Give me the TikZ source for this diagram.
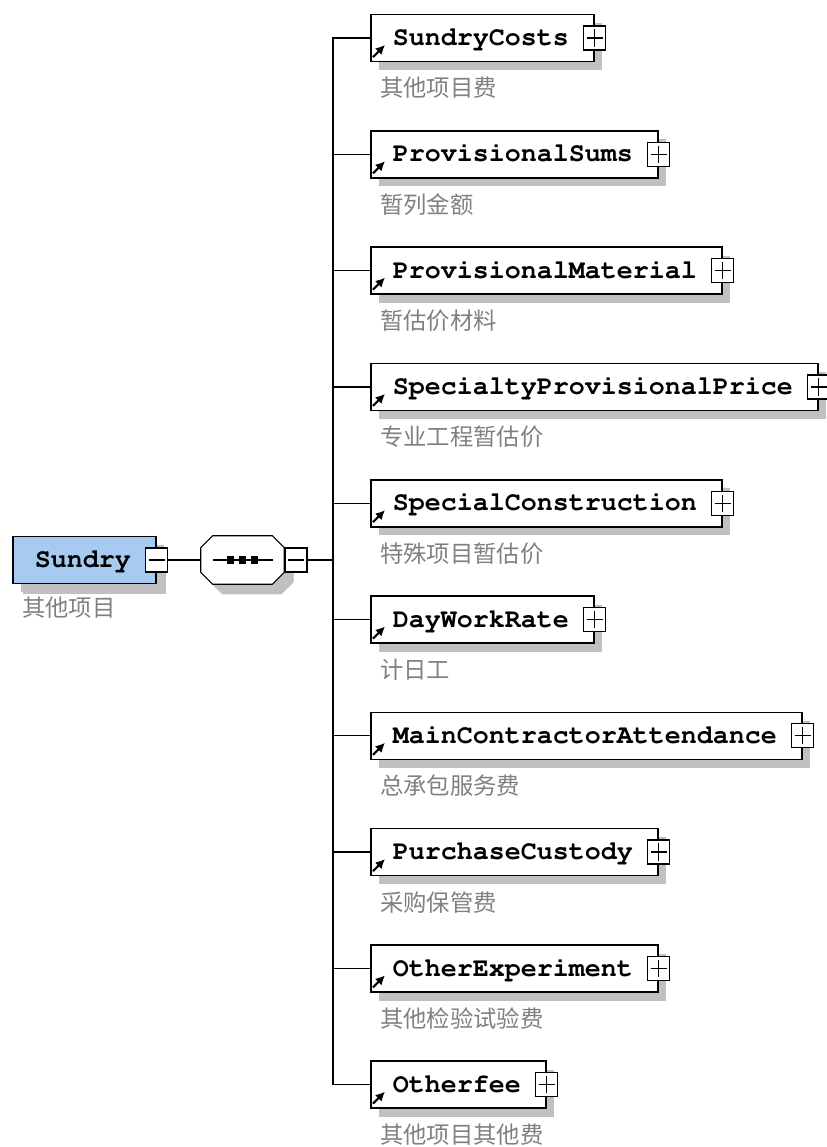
\documentclass[tikz,border=0pt]{standalone}
\usepackage[T1,TU]{fontenc}
\usepackage{fontspec}
\newfontfamily\cjk{Noto Sans CJK SC}
\newcommand\courb{\fontencoding{T1}\fontfamily{pcr}\fontseries{b}\selectfont}
\usetikzlibrary{shadows,arrows.meta,positioning}
\definecolor{rootblue}{RGB}{166,202,240}
\definecolor{shade}{RGB}{192,192,192}
\definecolor{notegray}{RGB}{128,128,128}

\tikzset{
  elem/.style={draw, line width=1.2pt, fill=white, anchor=west, minimum height=35.25pt,
    inner xsep=0pt, inner ysep=0pt, text height=14pt, text depth=2.6pt,
    font=\fontsize{20}{24}\courb,
    execute at begin node={\hspace*{16.5pt}}, execute at end node={\hspace*{18.75pt}},
    drop shadow={shadow xshift=6pt, shadow yshift=-6.5pt, fill=shade, opacity=1}},
  rootbox/.style={elem, fill=rootblue,
    drop shadow={shadow xshift=7.5pt, shadow yshift=-7.5pt, fill=shade, opacity=1}},
  plusbox/.style={draw, line width=1pt, fill=white, minimum width=16.5pt, minimum height=18pt, inner sep=0pt,
    path picture={\draw[line width=1pt] ([xshift=-6pt]path picture bounding box.center) -- ([xshift=6pt]path picture bounding box.center)
      ([yshift=-6.5pt]path picture bounding box.center) -- ([yshift=6.5pt]path picture bounding box.center);}},
  minusbox/.style={draw, line width=1pt, fill=white, minimum width=16.5pt, minimum height=18pt, inner sep=0pt,
    path picture={\draw[line width=1pt] ([xshift=-6pt]path picture bounding box.center) -- ([xshift=6pt]path picture bounding box.center);}},
  seqframe/.style={minimum width=62.25pt, minimum height=36pt, inner sep=0pt},
  octo/.style={draw, line width=0.8pt, fill=white,
    drop shadow={shadow xshift=7pt, shadow yshift=-7.5pt, fill=shade, opacity=1}},
  note/.style={anchor=west, inner sep=0pt, text=notegray, font=\cjk\fontsize{17.5}{20}\selectfont},
  conn/.style={line width=1pt},
  refarrow/.style={-{Latex[length=7pt,width=7pt]}, line width=1.6pt}
}

\begin{document}
\begin{tikzpicture}[x=0.75pt,y=-0.75pt]
            \useasboundingbox (0,0) rectangle (827,1147);
            % Root element
            \node[rootbox] (sundry) at (12,560) {Sundry};
            \node[minusbox] (sundrym) at (sundry.east) {};
            \node[note] (sundryl) at (22,608) {其他项目};
            % Sequence
            \node[seqframe] (seq) at (242.5,560) {};
            \draw[octo] ([xshift=9pt]seq.north west) -- ([xshift=-9pt]seq.north east)
              -- ([yshift=-9pt]seq.north east) -- ([yshift=9pt]seq.south east)
              -- ([xshift=-9pt]seq.south east) -- ([xshift=9pt]seq.south west)
              -- ([yshift=9pt]seq.south west) -- ([yshift=-9pt]seq.north west) -- cycle;
            \draw[line width=1pt] ([xshift=-22pt]seq.center) -- ([xshift=23pt]seq.center);
            \fill ([shift={(-15.5,-4)}]seq.center) rectangle ++(7,8);
            \fill ([shift={(-3.5,-4)}]seq.center) rectangle ++(7,8);
            \fill ([shift={(8.5,-4)}]seq.center) rectangle ++(7,8);
            \node[minusbox, anchor=west] (seqm) at (seq.east) {};
            \draw[conn] (sundrym.east) -- (seq.west);
            \coordinate (trunk) at (333,560);
            \draw[conn] (seqm.east) -- (trunk);
            % Children
            \node[elem] (sc) at (370,38) {SundryCosts};
            \node[plusbox] (scp) at (sc.east) {};
            \draw[refarrow] ([shift={(3,19)}]sc.west) -- ++(12,-12);
            \node[note] (scl) at (380,88) {其他项目费};
            \node[elem] (ps) at (370,154.3) {ProvisionalSums};
            \node[plusbox] (psp) at (ps.east) {};
            \draw[refarrow] ([shift={(3,19)}]ps.west) -- ++(12,-12);
            \node[note] (psl) at (380,204.3) {暂列金额};
            \node[elem] (pm) at (370,270.6) {ProvisionalMaterial};
            \node[plusbox] (pmp) at (pm.east) {};
            \draw[refarrow] ([shift={(3,19)}]pm.west) -- ++(12,-12);
            \node[note] (pml) at (380,320.6) {暂估价材料};
            \node[elem] (spp) at (370,386.9) {SpecialtyProvisionalPrice};
            \node[plusbox] (sppp) at (spp.east) {};
            \draw[refarrow] ([shift={(3,19)}]spp.west) -- ++(12,-12);
            \node[note] (sppl) at (380,436.9) {专业工程暂估价};
            \node[elem] (scon) at (370,503.2) {SpecialConstruction};
            \node[plusbox] (sconp) at (scon.east) {};
            \draw[refarrow] ([shift={(3,19)}]scon.west) -- ++(12,-12);
            \node[note] (sconl) at (380,553.2) {特殊项目暂估价};
            \node[elem] (dwr) at (370,619.5) {DayWorkRate};
            \node[plusbox] (dwrp) at (dwr.east) {};
            \draw[refarrow] ([shift={(3,19)}]dwr.west) -- ++(12,-12);
            \node[note] (dwrl) at (380,669.5) {计日工};
            \node[elem] (mca) at (370,735.8) {MainContractorAttendance};
            \node[plusbox] (mcap) at (mca.east) {};
            \draw[refarrow] ([shift={(3,19)}]mca.west) -- ++(12,-12);
            \node[note] (mcal) at (380,785.8) {总承包服务费};
            \node[elem] (pcu) at (370,852.1) {PurchaseCustody};
            \node[plusbox] (pcup) at (pcu.east) {};
            \draw[refarrow] ([shift={(3,19)}]pcu.west) -- ++(12,-12);
            \node[note] (pcul) at (380,902.1) {采购保管费};
            \node[elem] (oe) at (370,968.4) {OtherExperiment};
            \node[plusbox] (oep) at (oe.east) {};
            \draw[refarrow] ([shift={(3,19)}]oe.west) -- ++(12,-12);
            \node[note] (oel) at (380,1018.4) {其他检验试验费};
            \node[elem] (of) at (370,1084.7) {Otherfee};
            \node[plusbox] (ofp) at (of.east) {};
            \draw[refarrow] ([shift={(3,19)}]of.west) -- ++(12,-12);
            \node[note] (ofl) at (380,1134.7) {其他项目其他费};
            % Trunk and branches
            \draw[conn] (sc.west) -| (trunk) |- (of.west);
            \draw[conn] (trunk |- ps.west) -- (ps.west);
            \draw[conn] (trunk |- pm.west) -- (pm.west);
            \draw[conn] (trunk |- spp.west) -- (spp.west);
            \draw[conn] (trunk |- scon.west) -- (scon.west);
            \draw[conn] (trunk |- dwr.west) -- (dwr.west);
            \draw[conn] (trunk |- mca.west) -- (mca.west);
            \draw[conn] (trunk |- pcu.west) -- (pcu.west);
            \draw[conn] (trunk |- oe.west) -- (oe.west);
        \end{tikzpicture}
\end{document}
